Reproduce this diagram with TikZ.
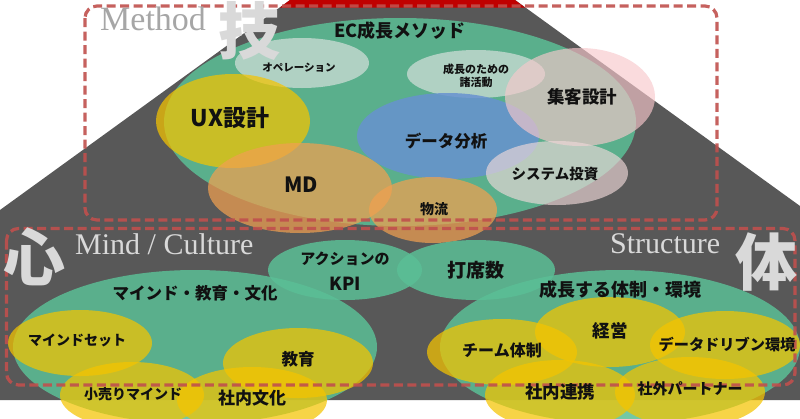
\documentclass[tikz,border=0pt]{standalone}
\usepackage{fontspec}
\setmainfont{Liberation Serif}
\newfontfamily\jp{Noto Sans CJK JP}
\usetikzlibrary{shapes.geometric}
\definecolor{dk}{HTML}{585858}
\definecolor{topred}{HTML}{C00000}
\definecolor{grn}{HTML}{5BBF96}
\definecolor{ylw}{HTML}{F5C400}
\definecolor{org}{HTML}{F0A050}
\definecolor{blu}{HTML}{6892D0}
\definecolor{pnk}{HTML}{F8C8CC}
\definecolor{pale}{HTML}{E6E6E6}
\definecolor{palep}{HTML}{EFD9D9}
\definecolor{dash}{HTML}{C0504D}
\definecolor{bigc}{HTML}{D9D9D9}
\definecolor{methc}{HTML}{A6A6A6}
\definecolor{txt}{HTML}{111111}
\begin{document}
\begin{tikzpicture}[x=1pt,y=-1pt,
  blob/.style 2 args={ellipse,inner sep=0pt,draw=none,minimum width=#1pt,minimum height=#2pt},
  gE/.style={fill=grn,fill opacity=.85},
  yE/.style={fill=ylw,fill opacity=.72},
  oE/.style={fill=org,fill opacity=.72},
  bE/.style={fill=blu,fill opacity=.85},
  pE/.style={fill=pnk,fill opacity=.65},
  wE/.style={fill=pale,fill opacity=.62},
  sE/.style={fill=palep,fill opacity=.65},
  jt/.style={font={\jp\bfseries\fontsize{#1}{#1}\selectfont},text=txt,inner sep=0pt},
  sr/.style={font={\fontsize{#1}{#1}\selectfont},inner sep=0pt,anchor=base west},
  big/.style={font={\jp\bfseries\fontsize{62}{62}\selectfont},text=bigc,inner sep=0pt},
  dbox/.style={draw=dash,draw opacity=.9,line width=3.2pt,dash pattern=on 9pt off 4.5pt,rounded corners=12pt}]
\useasboundingbox (0,0) rectangle (800,418);
\fill[white] (0,0) rectangle (800,418);
% background trapezoid
\fill[dk] (290,0) -- (515,0) -- (800,206) -- (800,400) -- (0,400) -- (0,210) -- cycle;
\fill[topred] (290,0) -- (515,0) -- (525,7.5) -- (280,7.5) -- cycle;
% upper ellipses
\node[blob={472}{208},gE] (ecE) at (400,122) {};
\node[blob={134}{50},wE] (opE) at (302,63) {};
\node[blob={138}{48},wE] (seiE) at (476,74) {};
\node[blob={182}{86},bE] (dataE) at (448,136) {};
\node[blob={150}{98},pE] (shuE) at (580,97) {};
\node[blob={142}{64},sE] (sysE) at (557,173) {};
\node[blob={154}{94},yE] (uxE) at (233,121) {};
\node[blob={184}{90},oE] (mdE) at (300,188) {};
\node[blob={128}{66},oE] (butE) at (433,210) {};
% lower ellipses
\node[blob={154}{60},gE] (kpiE) at (345,270) {};
\node[blob={158}{60},gE] (dasE) at (476,270) {};
\node[blob={364}{154},gE] (mindE) at (195,347) {};
\node[blob={360}{154},gE] (taiE) at (620,347) {};
\node[blob={144}{66},yE] (msE) at (80,343) {};
\node[blob={150}{70},yE] (kyE) at (298,363) {};
\node[blob={144}{66},yE] (koE) at (132,395) {};
\node[blob={150}{66},yE] (shbE) at (252,400) {};
\node[blob={150}{70},yE] (keiE) at (610,332) {};
\node[blob={150}{66},yE] (teamE) at (502,352) {};
\node[blob={150}{68},yE] (ddE) at (725,345) {};
\node[blob={150}{70},yE] (renE) at (560,395) {};
\node[blob={150}{70},yE] (gaiE) at (690,392) {};
% dashed boxes
\draw[dbox] (85,6) rectangle (717,220);
\draw[dbox] (6.5,228.5) rectangle (795,385);
% upper texts
\node[jt=18] (tEC) at (400,31) {EC成長メソッド};
\node[jt=10.5] (tOp) at (299,68) {オペレーション};
\node[jt=11,align=center,font={\jp\bfseries\fontsize{11}{12.5}\selectfont}] (tSei) at (476,76) {成長のための\\諸活動};
\node[jt=17.5] (tShu) at (582,97) {集客設計};
\node[jt=16.5] (tData) at (446,141) {データ分析};
\node[jt=14.5] (tSys) at (555,174) {システム投資};
\node[jt=23] (tUX) at (230,118) {UX設計};
\node[jt=21] (tMD) at (301,185) {MD};
\node[jt=14] (tBut) at (434,209) {物流};
% lower texts
\node[jt=15] (tKpi1) at (345,259) {アクションの};
\node[jt=18] (tKpi2) at (345,284) {KPI};
\node[jt=19] (tDas) at (476,270) {打席数};
\node[jt=16.5] (tMind) at (195,293) {マインド・教育・文化};
\node[jt=14] (tMs) at (77,340) {マインドセット};
\node[jt=16.5] (tKy) at (298,359) {教育};
\node[jt=14] (tKo) at (133,394) {小売りマインド};
\node[jt=17] (tShb) at (252,398) {社内文化};
\node[jt=18] (tTai) at (620,290) {成長する体制・環境};
\node[jt=17.5] (tKei) at (610,331) {経営};
\node[jt=16] (tTeam) at (502,350) {チーム体制};
\node[jt=15.2] (tDD) at (727,345) {データドリブン環境};
\node[jt=17.5] (tRen) at (560,392) {社内連携};
\node[jt=15] (tGai) at (690,389) {社外パートナー};
% section labels
\node[sr=34,text=methc] (lMethod) at (100,30) {Method};
\node[sr=30,text=bigc] (lMind) at (75,254) {Mind / Culture};
\node[sr=30,text=bigc] (lStr) at (610,253) {Structure};
\node[big] (kGi) at (249,31) {技};
\node[big] (kShin) at (35,257) {心};
\node[big] (kTai) at (766,262) {体};
\end{tikzpicture}
\end{document}
